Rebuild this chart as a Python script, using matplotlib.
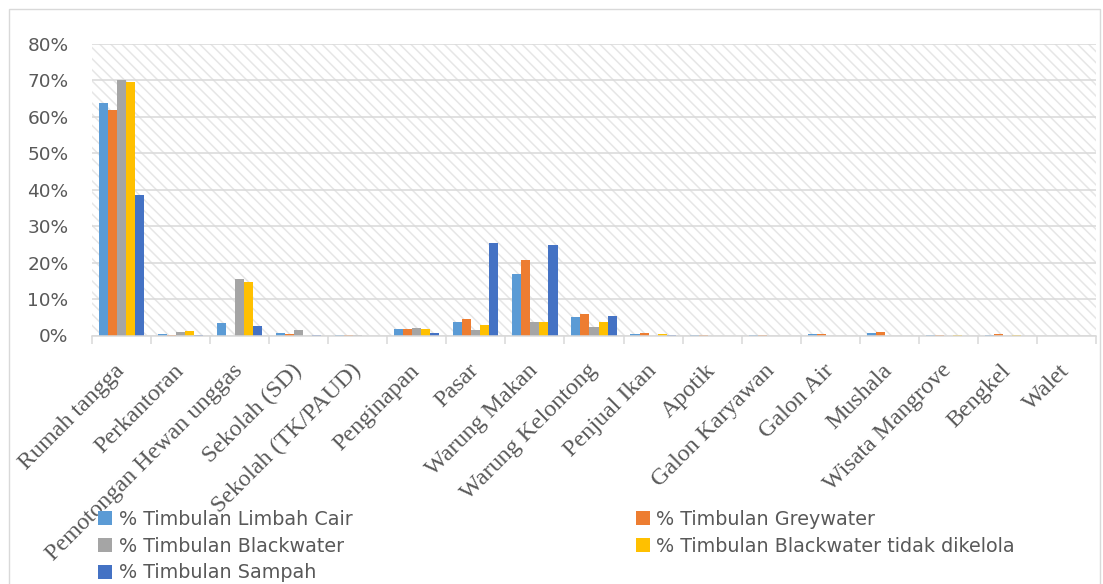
import numpy as np
import matplotlib
matplotlib.use("Agg")
import matplotlib.pyplot as plt
from matplotlib.patches import Rectangle
from matplotlib.ticker import FuncFormatter, FixedLocator

# ── Data (% per sumber) ──
categories = ["Rumah tangga", "Perkantoran", "Pemotongan Hewan unggas", "Sekolah (SD)",
              "Sekolah (TK/PAUD)", "Penginapan", "Pasar", "Warung Makan", "Warung Kelontong",
              "Penjual Ikan", "Apotik", "Galon Karyawan", "Galon Air", "Mushala",
              "Wisata Mangrove", "Bengkel", "Walet"]

limbah_cair    = [63.7, 0.3, 3.4, 0.6, 0.05, 1.8, 3.8, 16.8, 5.1, 0.5, 0.05, 0.05, 0.3, 0.6, 0.05, 0.2, 0.0]
greywater      = [61.9, 0.2, 0.0, 0.3, 0.05, 1.7, 4.5, 20.7, 6.0, 0.7, 0.1, 0.1, 0.4, 0.9, 0.05, 0.3, 0.0]
blackwater     = [70.1, 1.0, 15.4, 1.5, 0.1, 2.0, 1.6, 3.6, 2.2, 0.0, 0.0, 0.0, 0.0, 0.0, 0.0, 0.0, 0.0]
tidak_dikelola = [69.7, 1.2, 14.6, 0.0, 0.0, 1.9, 3.0, 3.7, 3.7, 0.5, 0.0, 0.0, 0.0, 0.0, 0.1, 0.1, 0.0]
sampah         = [38.6, 0.2, 2.6, 0.2, 0.0, 0.8, 25.5, 24.8, 5.4, 0.2, 0.0, 0.0, 0.0, 0.0, 0.0, 0.0, 0.0]

series = [
    ("% Timbulan Limbah Cair",                  limbah_cair,    "#5B9BD5"),
    ("% Timbulan Greywater",                    greywater,      "#ED7D31"),
    ("% Timbulan Blackwater",                   blackwater,     "#A5A5A5"),
    ("% Timbulan Blackwater tidak dikelola",    tidak_dikelola, "#FFC000"),
    ("% Timbulan Sampah",                       sampah,         "#4472C4"),
]

TEXT_COL = "#595959"
GRID_COL = "#D9D9D9"

# ── Figure ──
W, H = 1103, 584
fig = plt.figure(figsize=(W / 100, H / 100), dpi=100)
fig.patch.set_facecolor("white")

# outer chart border
fig.patches.append(Rectangle((9 / W, -0.05), (1100 - 9) / W, 1.05 - 9 / H,
                             transform=fig.transFigure, fill=False,
                             edgecolor=GRID_COL, lw=1.0, zorder=0))

ax = fig.add_axes([92 / W, 1 - 335.5 / H, (1096 - 92) / W, (335.5 - 44) / H])
ax.set_facecolor("white")

# hatched plot area background
plt.rcParams["hatch.linewidth"] = 1.1
ax.add_patch(Rectangle((0, 0), 1, 1, transform=ax.transAxes, facecolor="white",
                       edgecolor="#E6E6E6", hatch="\\\\\\", lw=0, zorder=0))

x = np.arange(len(categories))
bw = 0.153
for i, (label, vals, col) in enumerate(series):
    ax.bar(x + (i - 2) * bw, vals, width=bw, color=col, label=label, zorder=3)

ax.set_xlim(-0.5, len(categories) - 0.5)
ax.set_ylim(0, 80)
ax.set_yticks(np.arange(0, 81, 10))
ax.yaxis.set_major_formatter(FuncFormatter(lambda v, p: f"{v:.0f}%"))
ax.grid(axis="y", color=GRID_COL, lw=1.1, zorder=1)
ax.set_axisbelow(True)

for s in ("left", "right", "top"):
    ax.spines[s].set_visible(False)
ax.spines["bottom"].set_color(GRID_COL)
ax.spines["bottom"].set_linewidth(1.1)
ax.spines["bottom"].set_zorder(4)

ax.tick_params(axis="y", length=0, pad=17, labelsize=13.3, labelcolor=TEXT_COL)
ax.set_xticks(x)
ax.set_xticklabels(categories, rotation=45, ha="right", va="center", rotation_mode="anchor",
                   fontfamily="Liberation Serif", fontsize=17.3, color=TEXT_COL)
ax.tick_params(axis="x", which="major", length=0, pad=23)
ax.xaxis.set_minor_locator(FixedLocator(np.arange(-0.5, len(categories), 1.0)))
ax.tick_params(axis="x", which="minor", length=6, width=1.1, color=GRID_COL)

# ── Legend: two columns, row-wise order like the original ──
h, l = ax.get_legend_handles_labels()
order = [0, 2, 4, 1, 3]
fig.legend([h[k] for k in order], [l[k] for k in order],
           loc="upper left", bbox_to_anchor=(98 / W, 1 - 510 / H), ncol=2,
           frameon=False, fontsize=13.8, labelcolor=TEXT_COL,
           borderpad=0, borderaxespad=0, handlelength=0.75, handleheight=0.75,
           handletextpad=0.32, labelspacing=0.4, columnspacing=14.8)

fig.savefig("out.png", dpi=100)
